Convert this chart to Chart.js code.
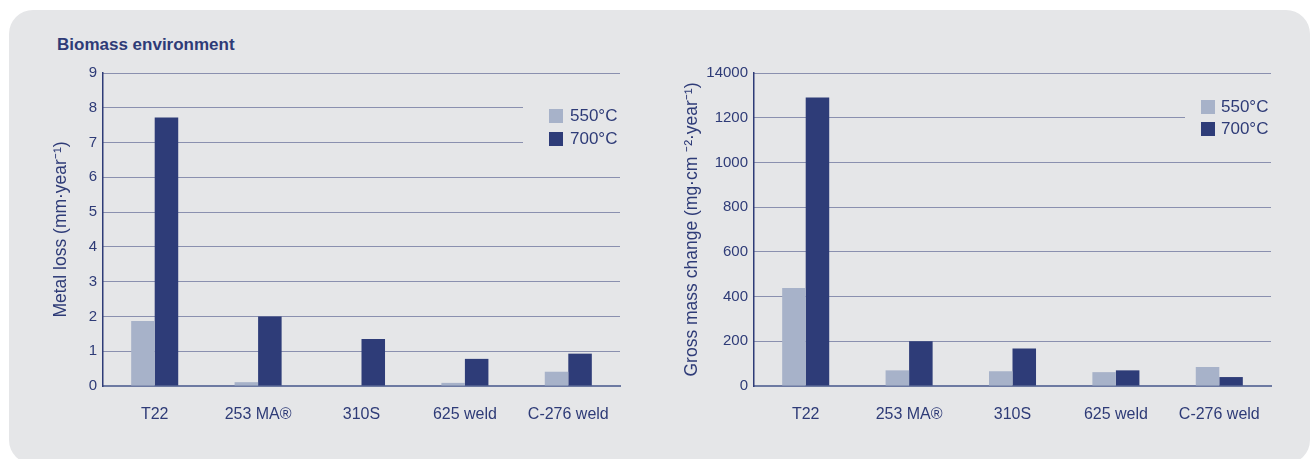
<!DOCTYPE html>
<html>
<head>
<meta charset="utf-8">
<script src="https://cdn.jsdelivr.net/npm/chart.js@4/dist/chart.umd.min.js"></script>
<style>
  html, body { margin: 0; padding: 0; background: #ffffff; width: 1316px; height: 459px; overflow: hidden; }
  #panel { position: absolute; left: 9px; top: 10px; width: 1301px; height: 454px; background: #e5e6e8; border-radius: 24px; }
  #heading { position: absolute; left: 57px; top: 35px; font: bold 17px 'Liberation Sans', Arial, sans-serif; color: #2e3b77; white-space: nowrap; }
  .wrap { position: absolute; top: 58px; height: 369px; }
  #wrapL { left: 40px; width: 585px; }
  #wrapR { left: 671px; width: 605px; }
</style>
</head>
<body>
<div id="panel"></div>
<div id="heading">Biomass environment</div>
<div class="wrap" id="wrapL"><canvas id="lossChart"></canvas></div>
<div class="wrap" id="wrapR"><canvas id="massChart"></canvas></div>
<script>
// Alloys tested and the two exposure temperatures
const categories = ['T22', '253 MA®', '310S', '625 weld', 'C-276 weld'];
const seriesNames = ['550°C', '700°C'];

// Metal loss, mm/year
const metalLoss550 = [1.87, 0.11, 0, 0.09, 0.41];
const metalLoss700 = [7.72, 2.0, 1.35, 0.78, 0.93];

// Gross mass change, mg/cm²/year
const massChange550 = [438, 70, 66, 62, 85];
const massChange700 = [1290, 200, 168, 70, 40];

// Tick labels of the two value axes
const lossTickLabels = ['0', '1', '2', '3', '4', '5', '6', '7', '8', '9'];
const massTickLabels = ['0', '200', '400', '600', '800', '1000', '1200', '14000'];

const NAVY = '#2e3b77';
const LIGHT = '#a7b2c9';
const DARK = '#2e3c78';
const PANEL = '#e5e6e8';
const FONT = "'Liberation Sans', Arial, sans-serif";

Chart.defaults.font.family = FONT;
Chart.defaults.color = NAVY;

// Legend drawn at the right end of the plot, over a cleared patch of grid
const sideLegend = {
  id: 'sideLegend',
  afterDatasetsDraw(chart, args, opts) {
    const { ctx, chartArea } = chart;
    const r = chartArea.right;
    const t = chartArea.top;
    ctx.save();
    ctx.fillStyle = PANEL;
    ctx.fillRect(r - opts.clearWidth, t + opts.clearTop, opts.clearWidth + 2, opts.clearHeight);
    ctx.font = '17px ' + FONT;
    ctx.textBaseline = 'middle';
    ctx.textAlign = 'left';
    chart.data.datasets.forEach((ds, i) => {
      const y = t + opts.boxTop + i * opts.rowGap;
      ctx.fillStyle = ds.backgroundColor;
      ctx.fillRect(r - opts.boxOffset, y, 14, 14);
      ctx.fillStyle = NAVY;
      ctx.fillText(ds.label, r - opts.boxOffset + opts.textGap, y + 7.5);
    });
    ctx.restore();
  }
};

function makeChart(id, s550, s700, max, step, tickLabels, title, axisWidth, legendOpts) {
  return new Chart(document.getElementById(id), {
    type: 'bar',
    data: {
      labels: categories,
      datasets: [
        { label: seriesNames[0], data: s550, backgroundColor: LIGHT },
        { label: seriesNames[1], data: s700, backgroundColor: DARK }
      ]
    },
    options: {
      responsive: true,
      maintainAspectRatio: false,
      animation: false,
      events: [],
      layout: { padding: { top: 13, right: 5, bottom: 0, left: 0 } },
      datasets: { bar: { categoryPercentage: 0.455, barPercentage: 1.0, borderWidth: 0 } },
      plugins: {
        legend: { display: false },
        tooltip: { enabled: false },
        sideLegend: legendOpts
      },
      scales: {
        x: {
          grid: { display: false },
          border: { display: true, color: '#6d7aa2', width: 2 },
          ticks: { font: { size: 16 }, color: NAVY, padding: 11, maxRotation: 0, autoSkip: false },
          afterFit(scale) { scale.height = 41; }
        },
        y: {
          min: 0,
          max: max,
          grid: { color: NAVY, lineWidth: 1, drawTicks: false },
          border: { display: true, color: NAVY, width: 1.5, dash: [1, 1] },
          ticks: {
            stepSize: step,
            padding: 6,
            font: { size: 15 },
            color: NAVY,
            callback: (v) => tickLabels[Math.round(v / step)]
          },
          title: { display: true, text: title, font: { size: 17.5 }, color: NAVY, padding: { top: 11, bottom: 0 } },
          afterFit(scale) { scale.width = axisWidth; }
        }
      }
    },
    plugins: [sideLegend]
  });
}

makeChart('lossChart', metalLoss550, metalLoss700, 9, 1, lossTickLabels,
  'Metal loss (mm·year⁻¹)', 63,
  { clearWidth: 97, clearTop: 28, clearHeight: 50, boxOffset: 71, boxTop: 36, rowGap: 23, textGap: 21 });

makeChart('massChart', massChange550, massChange700, 1400, 200, massTickLabels,
  'Gross mass change (mg·cm ⁻²·year⁻¹)', 83,
  { clearWidth: 86, clearTop: 23, clearHeight: 45, boxOffset: 70, boxTop: 27, rowGap: 22, textGap: 20 });
</script>
</body>
</html>
